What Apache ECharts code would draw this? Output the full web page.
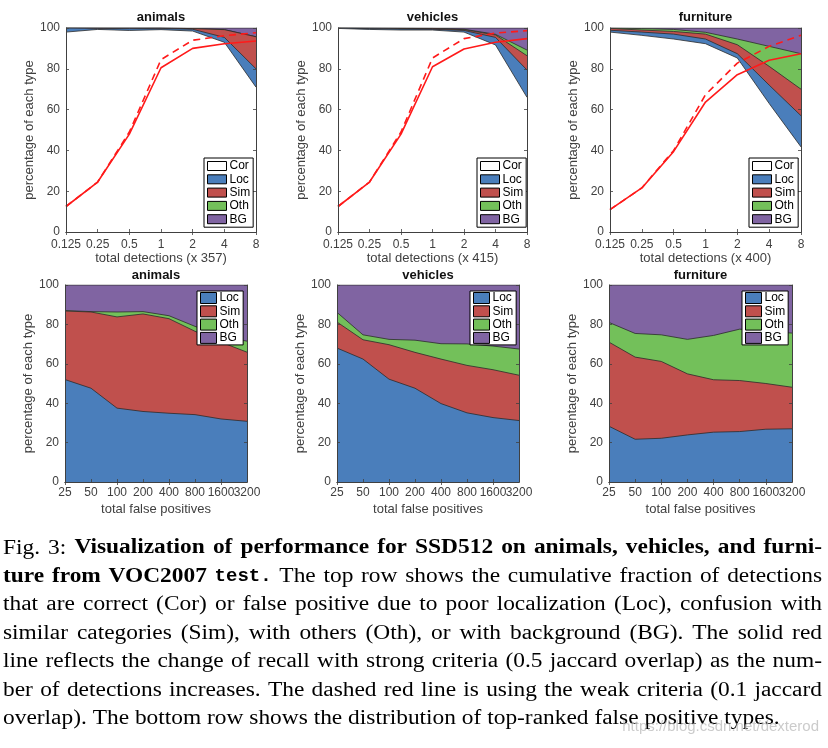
<!DOCTYPE html>
<html><head><meta charset="utf-8">
<script src="https://cdn.jsdelivr.net/npm/echarts@6/dist/echarts.min.js"></script>
<style>html,body{margin:0;padding:0;background:#fff}#c{width:828px;height:748px}</style>
</head><body><div id="c"></div>
<script>
// ---------- DATA ----------
const topCats = ['0.125', '0.25', '0.5', '1', '2', '4', '8'];
const botCats = ['25', '50', '100', '200', '400', '800', '1600', '3200'];
const legendTop = ['Cor', 'Loc', 'Sim', 'Oth', 'BG'];
const legendBot = ['Loc', 'Sim', 'Oth', 'BG'];
const titles = ['animals', 'vehicles', 'furniture'];
const topXNames = ['total detections (x 357)', 'total detections (x 415)', 'total detections (x 400)'];
const botXName = 'total false positives';
const yName = 'percentage of each type';

// top row: cumulative upper boundary of each type (percent)
const animalsCor = [98, 99.3, 98.8, 99.2, 98.5, 93, 71];
const animalsLoc = [100, 99.8, 99.7, 99.8, 99.4, 95.4, 80];
const animalsSim = [100, 100, 100, 100, 99.7, 99.2, 95.7];
const animalsOth = [100, 100, 100, 100, 99.7, 99.2, 95.7];
const animalsBG = [100, 100, 100, 100, 100, 100, 100];
const animalsStrong = [12.5, 24.5, 48, 80.5, 90, 92.3, 93.6];
const animalsWeak = [12.5, 24.5, 49, 84.5, 94, 96.2, 97.7];

const vehiclesCor = [99.8, 99.3, 99, 99, 98, 91.7, 66];
const vehiclesLoc = [100, 99.7, 99.5, 99.4, 98.8, 95.4, 79.4];
const vehiclesSim = [100, 99.9, 99.8, 99.7, 99.2, 96.6, 86.4];
const vehiclesOth = [100, 100, 99.9, 99.8, 99.4, 96.9, 89.2];
const vehiclesBG = [100, 100, 100, 100, 100, 100, 100];
const vehiclesStrong = [12.5, 24.5, 48, 81, 89.7, 93, 94.8];
const vehiclesWeak = [12.5, 24.5, 49, 85.3, 94.8, 97.5, 98.7];

const furnitureCor = [98, 96.4, 94.6, 92.3, 85.3, 63, 41.7];
const furnitureLoc = [98.9, 98, 97, 94.6, 87.4, 72, 57];
const furnitureSim = [99.8, 99, 98.3, 97, 91.8, 81.2, 70];
const furnitureOth = [100, 99.7, 99.3, 97.9, 94.6, 91, 87.4];
const furnitureBG = [100, 100, 100, 100, 100, 100, 100];
const furnitureStrong = [11, 21.6, 39.5, 63.7, 77.1, 84.2, 87.4];
const furnitureWeak = [11, 21.6, 40, 67.3, 82.8, 91, 96.4];

// bottom row: cumulative upper boundary of each false-positive type (percent)
const animalsFpLoc = [52, 47.6, 37.5, 35.8, 34.9, 34.2, 32, 30.8];
const animalsFpSim = [86.8, 86.3, 83.8, 85.3, 82.9, 76.5, 71, 65.9];
const animalsFpOth = [87, 86.5, 86.3, 86.5, 84.4, 79, 74, 71.5];
const animalsFpBG = [100, 100, 100, 100, 100, 100, 100, 100];

const vehiclesFpLoc = [68, 62.4, 52.2, 47.6, 39.8, 35.1, 32.7, 31.2];
const vehiclesFpSim = [81.2, 72.2, 69.7, 65.8, 62.4, 59.2, 57, 54.2];
const vehiclesFpOth = [86.1, 74.7, 72.4, 72, 70.2, 70.1, 69, 67.5];
const vehiclesFpBG = [100, 100, 100, 100, 100, 100, 100, 100];

const furnitureFpLoc = [28.3, 21.7, 22.2, 23.9, 25.3, 25.6, 26.8, 27];
const furnitureFpSim = [71, 63.4, 61.2, 54.9, 51.9, 51.5, 50, 48.1];
const furnitureFpOth = [81, 75.4, 74.7, 72.4, 74.4, 77.6, 76.5, 75.6];
const furnitureFpBG = [100, 100, 100, 100, 100, 100, 100, 100];

const captionLines = [
  [['r', 'Fig. 3:'], ['b', 'Visualization of performance for SSD512 on animals, vehicles, and furni-']],
  [['b', 'ture from VOC2007'], ['m', 'test.'], ['r', 'The top row shows the cumulative fraction of detections']],
  [['r', 'that are correct (Cor) or false positive due to poor localization (Loc), confusion with']],
  [['r', 'similar categories (Sim), with others (Oth), or with background (BG). The solid red']],
  [['r', 'line reflects the change of recall with strong criteria (0.5 jaccard overlap) as the num-']],
  [['r', 'ber of detections increases. The dashed red line is using the weak criteria (0.1 jaccard']],
  [['r', 'overlap). The bottom row shows the distribution of top-ranked false positive types.']]
];
const watermark = 'https://blog.csdn.net/dexterod';

// ---------- STYLE / LAYOUT ----------
const COL = { Cor: '#ffffff', Loc: '#4a7ebb', Sim: '#c0504d', Oth: '#73c05a', BG: '#8064a2' };
const AX = '#404040';
const FONT = '"Liberation Sans", Arial, sans-serif';
const topGrids = [
  { left: 66, top: 28, width: 190, height: 204 },
  { left: 338, top: 28, width: 189, height: 204 },
  { left: 610, top: 28, width: 191, height: 204 }
];
const botGrids = [
  { left: 65, top: 285, width: 182, height: 197 },
  { left: 337, top: 285, width: 182, height: 197 },
  { left: 609, top: 285, width: 183, height: 197 }
];
const topLegendPos = [{ left: 204, top: 158 }, { left: 477, top: 158 }, { left: 749, top: 158 }];
const botLegendPos = [{ left: 197, top: 291 }, { left: 470, top: 291 }, { left: 742, top: 291 }];

const topData = [
  { Cor: animalsCor, Loc: animalsLoc, Sim: animalsSim, Oth: animalsOth, BG: animalsBG, strong: animalsStrong, weak: animalsWeak },
  { Cor: vehiclesCor, Loc: vehiclesLoc, Sim: vehiclesSim, Oth: vehiclesOth, BG: vehiclesBG, strong: vehiclesStrong, weak: vehiclesWeak },
  { Cor: furnitureCor, Loc: furnitureLoc, Sim: furnitureSim, Oth: furnitureOth, BG: furnitureBG, strong: furnitureStrong, weak: furnitureWeak }
];
const botData = [
  { Loc: animalsFpLoc, Sim: animalsFpSim, Oth: animalsFpOth, BG: animalsFpBG },
  { Loc: vehiclesFpLoc, Sim: vehiclesFpSim, Oth: vehiclesFpOth, BG: vehiclesFpBG },
  { Loc: furnitureFpLoc, Sim: furnitureFpSim, Oth: furnitureFpOth, BG: furnitureFpBG }
];

const grids = [], xAxes = [], yAxes = [], series = [], legends = [], titleList = [];

function addPanel(gridPos, cats, xName, labelMargin, nameGap, title, titleTop) {
  const gi = grids.length;
  grids.push(Object.assign({ containLabel: false, outerBoundsMode: 'none' }, gridPos));
  const lineS = { show: true, lineStyle: { color: AX, width: 1 } };
  const tickS = { show: true, inside: true, length: 3, lineStyle: { color: AX, width: 0.8 } };
  xAxes.push({
    gridIndex: gi, type: 'category', data: cats, boundaryGap: false, position: 'bottom', z: 10,
    axisLine: lineS, axisTick: Object.assign({ alignWithLabel: true }, tickS),
    axisLabel: { interval: 0, margin: labelMargin, fontSize: 12, color: AX, fontFamily: FONT, hideOverlap: false },
    splitLine: { show: false },
    name: xName, nameLocation: 'middle', nameGap: nameGap,
    nameTextStyle: { fontSize: 13, color: AX, fontFamily: FONT }
  });
  xAxes.push({
    gridIndex: gi, type: 'category', data: cats, boundaryGap: false, position: 'top', z: 10,
    axisLine: lineS, axisTick: tickS, axisLabel: { show: false }, splitLine: { show: false }
  });
  yAxes.push({
    gridIndex: gi, type: 'value', min: 0, max: 100, interval: 20, position: 'left', z: 10,
    axisLine: lineS, axisTick: tickS,
    axisLabel: { margin: 6, fontSize: 12, color: AX, fontFamily: FONT },
    splitLine: { show: false },
    name: yName, nameLocation: 'middle', nameGap: 25,
    nameTextStyle: { fontSize: 13, color: AX, fontFamily: FONT }
  });
  yAxes.push({
    gridIndex: gi, type: 'value', min: 0, max: 100, interval: 20, position: 'right', z: 10,
    axisLine: lineS, axisTick: tickS, axisLabel: { show: false }, splitLine: { show: false }
  });
  titleList.push({
    text: title, left: gridPos.left + gridPos.width / 2, top: titleTop, textAlign: 'center', padding: 0,
    textStyle: { fontSize: 13, fontWeight: 'bold', color: '#111', fontFamily: FONT }
  });
  return gi;
}

function area(name, data, gi, z) {
  series.push({
    type: 'line', name: name, data: data, xAxisIndex: 2 * gi, yAxisIndex: 2 * gi,
    symbol: 'none', silent: true, z: z,
    lineStyle: { color: '#2b2b2b', width: 0.8 },
    itemStyle: { color: COL[name] },
    areaStyle: { color: COL[name], opacity: 1, origin: 'start' }
  });
}

for (let i = 0; i < 3; i++) {
  const gi = addPanel(topGrids[i], topCats, topXNames[i], 7, 20, titles[i], 11);
  const d = topData[i];
  area('BG', d.BG, gi, 2); area('Oth', d.Oth, gi, 3); area('Sim', d.Sim, gi, 4);
  area('Loc', d.Loc, gi, 5); area('Cor', d.Cor, gi, 6);
  series.push({ type: 'line', name: 'strong', data: d.strong, xAxisIndex: 2 * gi, yAxisIndex: 2 * gi,
    symbol: 'none', silent: true, z: 7, lineStyle: { color: '#ff1a1a', width: 1.6 } });
  series.push({ type: 'line', name: 'weak', data: d.weak, xAxisIndex: 2 * gi, yAxisIndex: 2 * gi,
    symbol: 'none', silent: true, z: 7, lineStyle: { color: '#ff1a1a', width: 1.6, type: [7, 5] } });
  legends.push({
    data: legendTop.map(n => ({ name: n, icon: 'rect' })), orient: 'vertical',
    left: topLegendPos[i].left, top: topLegendPos[i].top, z: 20,
    itemWidth: 19, itemHeight: 9, itemGap: 1.3, padding: [2, 3, 2, 3],
    backgroundColor: '#fff', borderColor: '#000', borderWidth: 1, selectedMode: false,
    itemStyle: { borderColor: '#000', borderWidth: 1 },
    textStyle: { fontSize: 12, color: '#000', fontFamily: FONT, padding: [0, 0, 0, -2] }
  });
}
for (let i = 0; i < 3; i++) {
  const gi = addPanel(botGrids[i], botCats, botXName, 5, 21, titles[i], 269);
  const d = botData[i];
  area('BG', d.BG, gi, 2); area('Oth', d.Oth, gi, 3); area('Sim', d.Sim, gi, 4); area('Loc', d.Loc, gi, 5);
  legends.push({
    data: legendBot.map(n => ({ name: n, icon: 'rect' })), orient: 'vertical',
    left: botLegendPos[i].left, top: botLegendPos[i].top, z: 20,
    itemWidth: 16, itemHeight: 11, itemGap: 1.3, padding: [1, 3, 1, 3],
    backgroundColor: '#fff', borderColor: '#000', borderWidth: 1, selectedMode: false,
    itemStyle: { borderColor: '#000', borderWidth: 1 },
    textStyle: { fontSize: 12, color: '#000', fontFamily: FONT, padding: [0, 0, 0, -2] }
  });
}

// ---------- CAPTION (justified text) ----------
const FS = 20;
const fonts = {
  r: FS + 'px "Liberation Serif", "Times New Roman", serif',
  b: 'bold ' + FS + 'px "Liberation Serif", "Times New Roman", serif',
  m: 'bold 19px "Liberation Mono", "Courier New", monospace'
};
const stretch = { r: 1.17, b: 1.17, m: 1.0 }; // horizontal stretch of the caption glyphs
const mctx = document.createElement('canvas').getContext('2d');
function tw(t, st) { mctx.font = fonts[st]; return mctx.measureText(t).width * stretch[st]; }
const graphics = [];
const X0 = 3, X1 = 822, BASE0 = 555, LH = 28.4;
captionLines.forEach((segs, li) => {
  const toks = [];
  segs.forEach(([st, txt]) => txt.split(' ').filter(s => s.length).forEach(w => toks.push({ st, w, width: tw(w, st) })));
  const total = toks.reduce((a, t) => a + t.width, 0);
  const last = li === captionLines.length - 1;
  const gap = last ? tw(' ', 'r') : (X1 - X0 - total) / (toks.length - 1);
  let x = X0;
  const y = BASE0 + li * LH - 6.75;
  toks.forEach(t => {
    graphics.push({ type: 'text', x: x, y: y, scaleX: stretch[t.st], silent: true, z: 30,
      style: { text: t.w, font: fonts[t.st], fill: '#000', textAlign: 'left', textVerticalAlign: 'middle', align: 'left', verticalAlign: 'middle' } });
    x += t.width + gap;
  });
});
graphics.push({ type: 'text', x: 819, y: 727, silent: true, z: 40,
  style: { text: watermark, font: '15px "Liberation Sans", Arial, sans-serif', fill: 'rgba(185,185,185,0.75)',
    textAlign: 'right', align: 'right', textVerticalAlign: 'middle', verticalAlign: 'middle' } });

const chart = echarts.init(document.getElementById('c'), null, { renderer: 'canvas' });
chart.setOption({
  animation: false,
  backgroundColor: '#fff',
  title: titleList,
  grid: grids, xAxis: xAxes, yAxis: yAxes,
  legend: legends,
  series: series,
  graphic: { elements: graphics }
});
</script></body></html>
